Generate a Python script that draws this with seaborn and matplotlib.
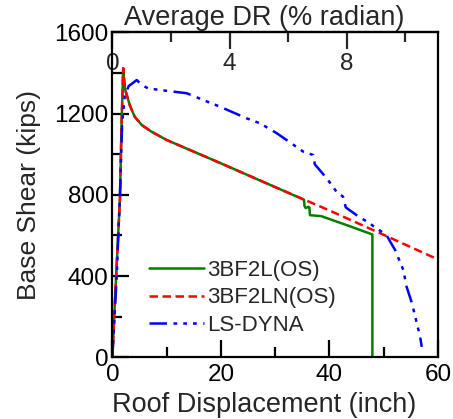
import matplotlib
matplotlib.use("Agg")
import matplotlib.pyplot as plt
from matplotlib.ticker import MultipleLocator, FixedLocator
import seaborn as sns

# Pushover curves: roof displacement (inch) vs base shear (kips)
l_disp = [0, 0.7, 1.4, 1.7, 2.0, 2.3, 3.2, 4.1, 5.4, 7.2, 10, 20, 30, 35.3,
          35.4, 35.6, 36.1, 36.3, 36.4, 38.5, 43.8, 47.9, 47.9]
l_shear = [0, 400, 780, 1150, 1423, 1324, 1242, 1185, 1144, 1111, 1070, 955,
           838, 776, 745, 735, 741, 738, 700, 695, 645, 605, 0]

ln_disp = [0, 0.7, 1.4, 1.7, 2.0, 2.3, 3.2, 4.1, 5.4, 7.2, 10, 20, 30, 40,
           50, 60]
ln_shear = [0, 400, 780, 1150, 1423, 1324, 1242, 1185, 1144, 1111, 1070, 955,
            838, 723, 603, 482]

dyna_disp = [0, 0.8, 1.4, 1.8, 2.3, 3.0, 4.5, 5.4, 6.6, 8.75, 13.7, 16.7,
             19.8, 24.7, 27.2, 30.3, 35.2, 37.0, 37.3, 39.5, 41.3, 42.5, 43.0,
             45.0, 46.9, 48.7, 50.5, 51.2, 52.1, 53.6, 54.2, 55.2, 56.1, 56.7,
             57.0]
dyna_shear = [0, 400, 800, 1150, 1290, 1335, 1365, 1340, 1324, 1316, 1300,
              1267, 1234, 1177, 1152, 1103, 1012, 996, 950, 881, 815, 791,
              738, 700, 668, 635, 602, 569, 528, 430, 348, 266, 167, 101, 52]

labels = ["3BF2L(OS)", "3BF2LN(OS)", "LS-DYNA"]
dr_major = [0, 4, 8]
dr_minor = [2, 6, 10]
roof_height = 540.0  # inch, for drift ratio

sns.set_style("white")
plt.rcParams["font.family"] = ["Liberation Sans", "DejaVu Sans"]
plt.rcParams["xtick.direction"] = "in"
plt.rcParams["ytick.direction"] = "in"

fig = plt.figure(figsize=(4.53, 4.19), dpi=100)
ax = fig.add_axes([0.248, 0.147, 0.719, 0.776])

lw = 1.8
sns.lineplot(x=l_disp, y=l_shear, ax=ax, sort=False, estimator=None,
             color="#008000", lw=lw, label=labels[0])
sns.lineplot(x=ln_disp, y=ln_shear, ax=ax, sort=False, estimator=None,
             color="#ff0000", lw=lw, dashes=(3.4, 1.8), label=labels[1])
sns.lineplot(x=dyna_disp, y=dyna_shear, ax=ax, sort=False, estimator=None,
             color="#0000ff", lw=lw,
             dashes=(7, 2.6, 1.5, 2.4, 1.5, 2.4, 1.5, 2.6), label=labels[2])

ax.set_xlim(0, 60)
ax.set_ylim(0, 1600)
ax.xaxis.set_major_locator(MultipleLocator(20))
ax.xaxis.set_minor_locator(MultipleLocator(10))
ax.yaxis.set_major_locator(MultipleLocator(400))
ax.yaxis.set_minor_locator(MultipleLocator(200))
ax.tick_params(which="major", length=12, width=1.6, labelsize=17.5,
               color="black", labelcolor="black")
ax.tick_params(axis="x", which="major", pad=5)
ax.tick_params(axis="y", which="major", pad=3)
ax.tick_params(which="minor", length=7.5, width=1.6, color="black")
ax.tick_params(axis="x", which="both", bottom=True, top=False)
ax.tick_params(axis="y", which="both", left=True, right=False)
for s in ax.spines.values():
    s.set_linewidth(1.6)
    s.set_color("black")

ax.set_xlabel("Roof Displacement (inch)", fontsize=19.5)
ax.xaxis.set_label_coords(0.467, -0.106)
ax.set_ylabel("Base Shear (kips)", fontsize=19, labelpad=9)

sec = ax.secondary_xaxis(
    "top",
    functions=(lambda d: d * 100.0 / roof_height,
               lambda r: r * roof_height / 100.0))
sec.xaxis.set_major_locator(FixedLocator(dr_major))
sec.xaxis.set_minor_locator(FixedLocator(dr_minor))
sec.tick_params(which="major", direction="in", length=12, width=1.6,
                labelsize=17.5, pad=-31)
sec.tick_params(which="minor", direction="in", length=7.5, width=1.6)
sec.spines["top"].set_linewidth(1.6)
sec.set_xlabel("Average DR (% radian)", fontsize=19.5, labelpad=2)
sec.xaxis.label.set_x(0.467)

leg = ax.legend(loc="center left", bbox_to_anchor=(0.113, 0.183),
                frameon=False, fontsize=16, handlelength=2.45,
                handletextpad=0.18, labelspacing=0.3, borderpad=0,
                borderaxespad=0)

fig.savefig("out.png", dpi=100)
